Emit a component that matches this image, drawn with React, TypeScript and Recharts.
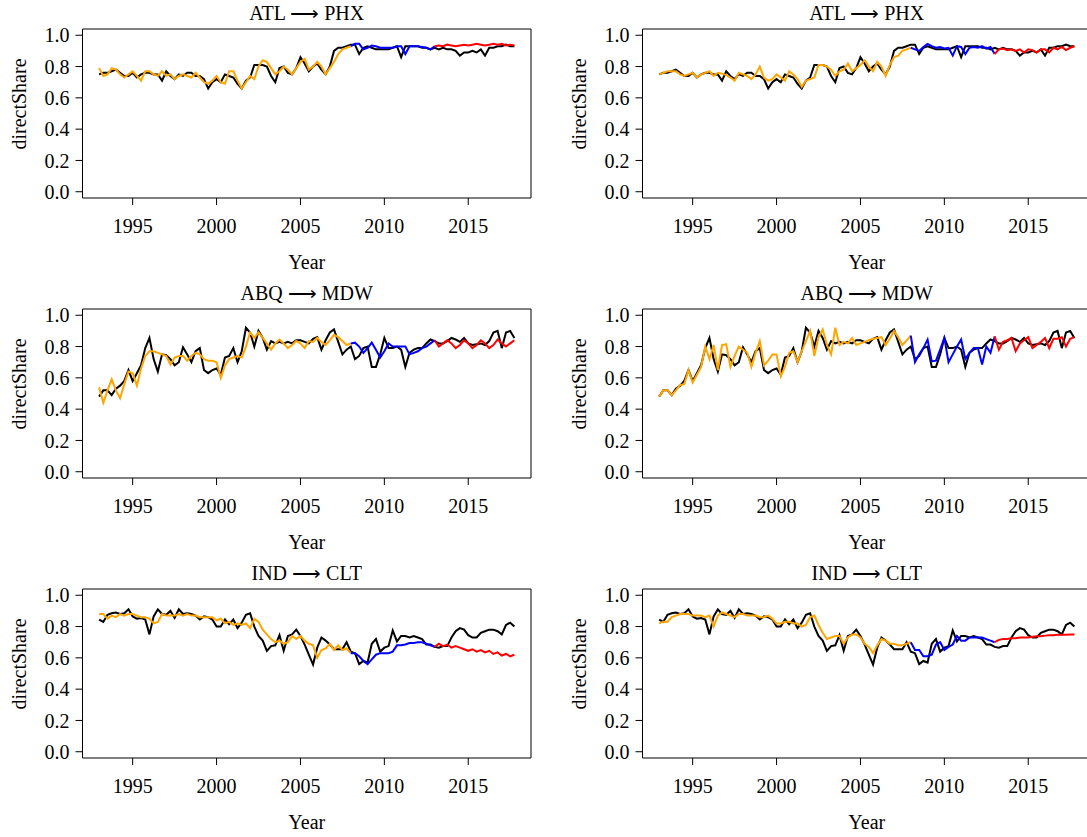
import { LineChart, Line, XAxis, YAxis, ReferenceArea } from 'recharts';

// quarterly series, 1993 Q1 .. 2017 Q4
const START_YEAR = 1993;
const N_QUARTERS = 100;
const QUARTERS = Array.from({ length: N_QUARTERS }, (_, i) => START_YEAR + i / 4);

// fitted values run 1993-2008, first forecast 2008-2013, second forecast 2013-2017
const FIT_END = 60;
const FC1_END = 80;

const X_TICKS = [1995, 2000, 2005, 2010, 2015];
const Y_TICKS = [0, 0.2, 0.4, 0.6, 0.8, 1.0];

// ATL -> PHX
const ATL_PHX_ACTUAL = [
    0.75, 0.76, 0.76, 0.77, 0.78, 0.76, 0.74, 0.74, 0.76, 0.73, 0.75, 0.76, 0.76, 0.75, 0.75, 0.71,
    0.77, 0.74, 0.72, 0.75, 0.74, 0.76, 0.76, 0.74, 0.74, 0.72, 0.66, 0.70, 0.72, 0.70, 0.75, 0.74,
    0.73, 0.69, 0.66, 0.71, 0.73, 0.81, 0.81, 0.81, 0.80, 0.74, 0.70, 0.79, 0.80, 0.76, 0.75, 0.79,
    0.86, 0.82, 0.77, 0.80, 0.82, 0.78, 0.75, 0.80, 0.90, 0.92, 0.92, 0.93, 0.94, 0.94, 0.88, 0.92,
    0.93, 0.92, 0.91, 0.91, 0.91, 0.91, 0.92, 0.93, 0.86, 0.93, 0.93, 0.93, 0.93, 0.92, 0.92, 0.91,
    0.92, 0.91, 0.92, 0.91, 0.91, 0.90, 0.87, 0.89, 0.89, 0.90, 0.89, 0.91, 0.87, 0.92, 0.92, 0.93,
    0.93, 0.94, 0.93, 0.93
];
const ATL_PHX_FIT_L = [
    0.79, 0.74, 0.75, 0.79, 0.78, 0.75, 0.73, 0.75, 0.77, 0.74, 0.71, 0.77, 0.77, 0.75, 0.74, 0.77,
    0.74, 0.75, 0.72, 0.74, 0.75, 0.74, 0.73, 0.76, 0.73, 0.70, 0.69, 0.71, 0.74, 0.70, 0.69, 0.77,
    0.77, 0.71, 0.66, 0.70, 0.74, 0.72, 0.80, 0.84, 0.83, 0.79, 0.75, 0.77, 0.80, 0.78, 0.75, 0.79,
    0.83, 0.85, 0.78, 0.80, 0.83, 0.80, 0.75, 0.79, 0.83, 0.88, 0.91, 0.92, 0.93
];
const ATL_PHX_FC1_L = [
    0.93, 0.945, 0.945, 0.91, 0.92, 0.935, 0.93, 0.92, 0.92, 0.92, 0.92, 0.93, 0.93, 0.88, 0.93,
    0.93, 0.93, 0.925, 0.92, 0.91, 0.93
];
const ATL_PHX_FC2_L = [
    0.93, 0.935, 0.93, 0.94, 0.935, 0.93, 0.935, 0.94, 0.935, 0.94, 0.945, 0.94, 0.935, 0.94, 0.945,
    0.94, 0.945, 0.935, 0.94, 0.935
];
const ATL_PHX_FIT_R = [
    0.75, 0.76, 0.77, 0.77, 0.77, 0.75, 0.74, 0.75, 0.76, 0.73, 0.75, 0.76, 0.77, 0.74, 0.76, 0.755,
    0.745, 0.73, 0.71, 0.76, 0.75, 0.74, 0.72, 0.75, 0.80, 0.73, 0.71, 0.72, 0.75, 0.73, 0.71, 0.77,
    0.75, 0.72, 0.67, 0.71, 0.72, 0.73, 0.81, 0.81, 0.80, 0.78, 0.74, 0.77, 0.78, 0.82, 0.77, 0.79,
    0.81, 0.84, 0.80, 0.77, 0.83, 0.80, 0.74, 0.81, 0.86, 0.87, 0.90, 0.91, 0.92
];
const ATL_PHX_FC1_R = [
    0.92, 0.91, 0.90, 0.925, 0.945, 0.93, 0.92, 0.925, 0.915, 0.92, 0.87, 0.93, 0.925, 0.88, 0.92,
    0.925, 0.92, 0.93, 0.915, 0.925, 0.88
];
const ATL_PHX_FC2_R = [
    0.88, 0.91, 0.915, 0.905, 0.91, 0.90, 0.91, 0.89, 0.91, 0.905, 0.89, 0.91, 0.91, 0.89, 0.92,
    0.91, 0.925, 0.905, 0.92, 0.93
];

// ABQ -> MDW
const ABQ_MDW_ACTUAL = [
    0.48, 0.52, 0.52, 0.49, 0.53, 0.55, 0.58, 0.65, 0.58, 0.63, 0.68, 0.79, 0.855, 0.72, 0.64, 0.75,
    0.745, 0.72, 0.68, 0.70, 0.795, 0.75, 0.70, 0.77, 0.79, 0.65, 0.63, 0.65, 0.66, 0.62, 0.73, 0.74,
    0.79, 0.70, 0.77, 0.92, 0.89, 0.80, 0.90, 0.855, 0.78, 0.835, 0.82, 0.83, 0.82, 0.83, 0.82, 0.84,
    0.84, 0.83, 0.82, 0.85, 0.86, 0.78, 0.84, 0.89, 0.91, 0.83, 0.75, 0.78, 0.80, 0.72, 0.74, 0.79,
    0.80, 0.67, 0.67, 0.75, 0.855, 0.79, 0.79, 0.80, 0.78, 0.67, 0.76, 0.78, 0.79, 0.79, 0.82, 0.845,
    0.835, 0.82, 0.82, 0.835, 0.855, 0.845, 0.83, 0.855, 0.82, 0.81, 0.815, 0.82, 0.81, 0.835, 0.89,
    0.90, 0.79, 0.89, 0.90, 0.855
];
const ABQ_MDW_FIT_L = [
    0.54, 0.44, 0.52, 0.59, 0.52, 0.47, 0.56, 0.64, 0.63, 0.55, 0.66, 0.74, 0.77, 0.77, 0.76, 0.75,
    0.74, 0.685, 0.73, 0.74, 0.74, 0.71, 0.74, 0.76, 0.75, 0.72, 0.71, 0.71, 0.70, 0.60, 0.68, 0.72,
    0.73, 0.74, 0.73, 0.80, 0.89, 0.855, 0.89, 0.855, 0.82, 0.78, 0.82, 0.845, 0.82, 0.79, 0.81,
    0.835, 0.82, 0.79, 0.835, 0.83, 0.855, 0.83, 0.81, 0.84, 0.875, 0.86, 0.835, 0.81, 0.82
];
const ABQ_MDW_FC1_L = [
    0.82, 0.825, 0.80, 0.76, 0.79, 0.825, 0.78, 0.73, 0.77, 0.82, 0.80, 0.80, 0.80, 0.80, 0.75, 0.76,
    0.77, 0.79, 0.80, 0.82, 0.84
];
const ABQ_MDW_FC2_L = [
    0.84, 0.80, 0.82, 0.84, 0.82, 0.79, 0.81, 0.84, 0.82, 0.79, 0.81, 0.84, 0.82, 0.79, 0.81, 0.845,
    0.82, 0.80, 0.82, 0.84
];
const ABQ_MDW_FIT_R = [
    0.48, 0.52, 0.52, 0.49, 0.52, 0.555, 0.56, 0.65, 0.57, 0.62, 0.67, 0.80, 0.72, 0.81, 0.65, 0.81,
    0.815, 0.67, 0.74, 0.80, 0.78, 0.76, 0.67, 0.76, 0.835, 0.68, 0.71, 0.75, 0.75, 0.61, 0.67, 0.76,
    0.77, 0.70, 0.77, 0.835, 0.90, 0.74, 0.86, 0.91, 0.81, 0.75, 0.92, 0.81, 0.83, 0.82, 0.855, 0.81,
    0.82, 0.83, 0.84, 0.85, 0.855, 0.86, 0.81, 0.85, 0.90, 0.86, 0.81, 0.84, 0.87
];
const ABQ_MDW_FC1_R = [
    0.87, 0.70, 0.75, 0.79, 0.845, 0.705, 0.71, 0.78, 0.855, 0.70, 0.75, 0.80, 0.845, 0.72, 0.76,
    0.79, 0.79, 0.685, 0.80, 0.76, 0.865
];
const ABQ_MDW_FC2_R = [
    0.865, 0.78, 0.83, 0.84, 0.855, 0.77, 0.82, 0.84, 0.86, 0.79, 0.81, 0.83, 0.855, 0.79, 0.85,
    0.85, 0.86, 0.80, 0.85, 0.86
];

// IND -> CLT
const IND_CLT_ACTUAL = [
    0.845, 0.83, 0.875, 0.885, 0.89, 0.88, 0.885, 0.91, 0.865, 0.85, 0.855, 0.845, 0.75, 0.865, 0.91,
    0.88, 0.875, 0.90, 0.855, 0.91, 0.88, 0.885, 0.88, 0.87, 0.845, 0.865, 0.86, 0.845, 0.80, 0.80,
    0.845, 0.815, 0.845, 0.79, 0.825, 0.875, 0.885, 0.80, 0.74, 0.71, 0.645, 0.675, 0.68, 0.745,
    0.645, 0.74, 0.75, 0.78, 0.74, 0.685, 0.62, 0.557, 0.665, 0.73, 0.71, 0.685, 0.655, 0.655, 0.655,
    0.70, 0.64, 0.63, 0.56, 0.58, 0.57, 0.69, 0.72, 0.64, 0.665, 0.675, 0.775, 0.705, 0.74, 0.74,
    0.73, 0.74, 0.73, 0.72, 0.685, 0.685, 0.67, 0.665, 0.675, 0.675, 0.73, 0.77, 0.79, 0.78, 0.745,
    0.73, 0.73, 0.76, 0.77, 0.78, 0.78, 0.77, 0.75, 0.81, 0.825, 0.80
];
const IND_CLT_FIT_L = [
    0.88, 0.88, 0.85, 0.87, 0.86, 0.88, 0.87, 0.88, 0.88, 0.87, 0.86, 0.86, 0.85, 0.82, 0.83, 0.88,
    0.87, 0.87, 0.87, 0.88, 0.87, 0.88, 0.87, 0.87, 0.86, 0.86, 0.86, 0.86, 0.84, 0.85, 0.82, 0.83,
    0.81, 0.82, 0.81, 0.82, 0.79, 0.85, 0.83, 0.78, 0.75, 0.72, 0.70, 0.71, 0.69, 0.70, 0.74, 0.72,
    0.74, 0.71, 0.69, 0.68, 0.60, 0.65, 0.66, 0.69, 0.65, 0.68, 0.65, 0.66, 0.63
];
const IND_CLT_FC1_L = [
    0.63, 0.63, 0.61, 0.58, 0.56, 0.59, 0.62, 0.63, 0.63, 0.63, 0.64, 0.68, 0.68, 0.685, 0.695,
    0.695, 0.70, 0.70, 0.69, 0.68, 0.67
];
const IND_CLT_FC2_L = [
    0.67, 0.69, 0.675, 0.685, 0.665, 0.675, 0.665, 0.655, 0.645, 0.655, 0.64, 0.65, 0.635, 0.645,
    0.625, 0.635, 0.615, 0.625, 0.61, 0.62
];
const IND_CLT_FIT_R = [
    0.82, 0.83, 0.83, 0.86, 0.87, 0.88, 0.88, 0.88, 0.87, 0.87, 0.87, 0.86, 0.87, 0.80, 0.87, 0.89,
    0.88, 0.87, 0.86, 0.88, 0.88, 0.87, 0.87, 0.87, 0.86, 0.86, 0.87, 0.85, 0.82, 0.82, 0.83, 0.83,
    0.82, 0.82, 0.80, 0.81, 0.86, 0.87, 0.81, 0.76, 0.72, 0.73, 0.74, 0.74, 0.69, 0.73, 0.75, 0.75,
    0.73, 0.69, 0.67, 0.63, 0.68, 0.72, 0.71, 0.69, 0.69, 0.68, 0.68, 0.69, 0.70
];
const IND_CLT_FC1_R = [
    0.70, 0.65, 0.65, 0.61, 0.61, 0.62, 0.685, 0.70, 0.65, 0.67, 0.685, 0.74, 0.71, 0.71, 0.73, 0.73,
    0.73, 0.73, 0.72, 0.71, 0.70
];
const IND_CLT_FC2_R = [
    0.70, 0.715, 0.72, 0.72, 0.725, 0.725, 0.73, 0.73, 0.73, 0.735, 0.738, 0.738, 0.742, 0.745,
    0.745, 0.748, 0.748, 0.748, 0.75, 0.75
];

const PANELS = [
    { title: 'ATL', dest: 'PHX', actual: ATL_PHX_ACTUAL, fit: ATL_PHX_FIT_L, fc1: ATL_PHX_FC1_L, fc2: ATL_PHX_FC2_L, row: 0, col: 0 },
    { title: 'ATL', dest: 'PHX', actual: ATL_PHX_ACTUAL, fit: ATL_PHX_FIT_R, fc1: ATL_PHX_FC1_R, fc2: ATL_PHX_FC2_R, row: 0, col: 1 },
    { title: 'ABQ', dest: 'MDW', actual: ABQ_MDW_ACTUAL, fit: ABQ_MDW_FIT_L, fc1: ABQ_MDW_FC1_L, fc2: ABQ_MDW_FC2_L, row: 1, col: 0 },
    { title: 'ABQ', dest: 'MDW', actual: ABQ_MDW_ACTUAL, fit: ABQ_MDW_FIT_R, fc1: ABQ_MDW_FC1_R, fc2: ABQ_MDW_FC2_R, row: 1, col: 1 },
    { title: 'IND', dest: 'CLT', actual: IND_CLT_ACTUAL, fit: IND_CLT_FIT_L, fc1: IND_CLT_FC1_L, fc2: IND_CLT_FC2_L, row: 2, col: 0 },
    { title: 'IND', dest: 'CLT', actual: IND_CLT_ACTUAL, fit: IND_CLT_FIT_R, fc1: IND_CLT_FC1_R, fc2: IND_CLT_FC2_R, row: 2, col: 1 },
];

const FONT = "'Liberation Serif', 'Times New Roman', serif";
const FONT_SIZE = 20;
const CELL_W = 560;
const CELL_H = 280;
const M_TOP = 29;
const M_RIGHT = 29;
const Y_AXIS_W = 82.5;
const X_AXIS_H = 82;
const X_DOMAIN: [number, number] = [1992.01, 2018.74];
const Y_DOMAIN: [number, number] = [-0.04, 1.04];

// tick renderers, so the serif font really gets used
const XTick = (props: any) => {
    const { x, y, payload } = props;
    return (
        <text x={x} y={y} dy="0.71em" textAnchor="middle" fill="#000" fontSize={FONT_SIZE} fontFamily={FONT}>
            {payload.value}
        </text>
    );
};

const YTick = (props: any) => {
    const { x, y, payload } = props;
    return (
        <text x={x} y={y} dy="0.355em" textAnchor="end" fill="#000" fontSize={FONT_SIZE} fontFamily={FONT}>
            {Number(payload.value).toFixed(1)}
        </text>
    );
};

type PanelProps = {
    title: string;
    dest: string;
    actual: number[];
    fit: number[];
    fc1: number[];
    fc2: number[];
    row: number;
    col: number;
};

const Panel = ({ title, dest, actual, fit, fc1, fc2, row, col }: PanelProps) => {
    const data = QUARTERS.map((t, i) => ({
        t,
        actual: actual[i],
        fit: i <= FIT_END ? fit[i] : null,
        fc1: i >= FIT_END && i <= FC1_END ? fc1[i - FIT_END] : null,
        fc2: i >= FC1_END ? fc2[i - FC1_END] : null,
    }));

    const boxCx = (Y_AXIS_W + (CELL_W - M_RIGHT)) / 2;

    return (
        <div style={{ position: 'absolute', left: col * CELL_W, top: row * CELL_H, width: CELL_W, height: CELL_H }}>
            <LineChart
                width={CELL_W}
                height={CELL_H}
                data={data}
                margin={{ top: M_TOP, right: M_RIGHT, bottom: 0, left: 0 }}
                style={{ fontFamily: FONT }}
            >
                <XAxis
                    dataKey="t"
                    type="number"
                    domain={X_DOMAIN}
                    ticks={X_TICKS}
                    interval={0}
                    height={X_AXIS_H}
                    axisLine={false}
                    tickLine={{ stroke: '#000' }}
                    tickSize={7}
                    tickMargin={14}
                    tick={<XTick />}
                    allowDataOverflow
                />
                <YAxis
                    type="number"
                    domain={Y_DOMAIN}
                    ticks={Y_TICKS}
                    interval={0}
                    width={Y_AXIS_W}
                    axisLine={false}
                    tickLine={{ stroke: '#000' }}
                    tickSize={7}
                    tickMargin={6}
                    tick={<YTick />}
                    allowDataOverflow
                />
                <ReferenceArea
                    x1={X_DOMAIN[0]}
                    x2={X_DOMAIN[1]}
                    y1={Y_DOMAIN[0]}
                    y2={Y_DOMAIN[1]}
                    fill="none"
                    stroke="#000"
                    strokeWidth={1}
                    ifOverflow="visible"
                />
                <Line dataKey="actual" type="linear" stroke="#000000" strokeWidth={2} dot={false} activeDot={false} isAnimationActive={false} />
                <Line dataKey="fit" type="linear" stroke="#FFA500" strokeWidth={2} dot={false} activeDot={false} isAnimationActive={false} />
                <Line dataKey="fc1" type="linear" stroke="#0000FF" strokeWidth={2} dot={false} activeDot={false} isAnimationActive={false} />
                <Line dataKey="fc2" type="linear" stroke="#FF0000" strokeWidth={2} dot={false} activeDot={false} isAnimationActive={false} />
            </LineChart>
            <svg
                width={CELL_W}
                height={CELL_H}
                style={{ position: 'absolute', left: 0, top: 0, pointerEvents: 'none' }}
            >
                <text x={boxCx} y={20} textAnchor="middle" fontSize={FONT_SIZE} fontFamily={FONT} fill="#000">
                    {title} ⟶ {dest}
                </text>
                <text x={boxCx} y={269} textAnchor="middle" fontSize={FONT_SIZE} fontFamily={FONT} fill="#000">
                    Year
                </text>
                <text
                    x={26}
                    y={104}
                    textAnchor="middle"
                    fontSize={FONT_SIZE}
                    fontFamily={FONT}
                    fill="#000"
                    transform="rotate(-90 26 104)"
                >
                    directShare
                </text>
            </svg>
        </div>
    );
};

const App = () => {
    return (
        <div style={{
            position: 'absolute',
            left: 0,
            top: 0,
            width: 1087,
            height: 837,
            overflow: 'hidden',
            background: '#ffffff'
        }}>
            {PANELS.map((p, idx) => (
                <Panel key={`panel-${idx}`} {...p} />
            ))}
        </div>
    );
};

export default App;
